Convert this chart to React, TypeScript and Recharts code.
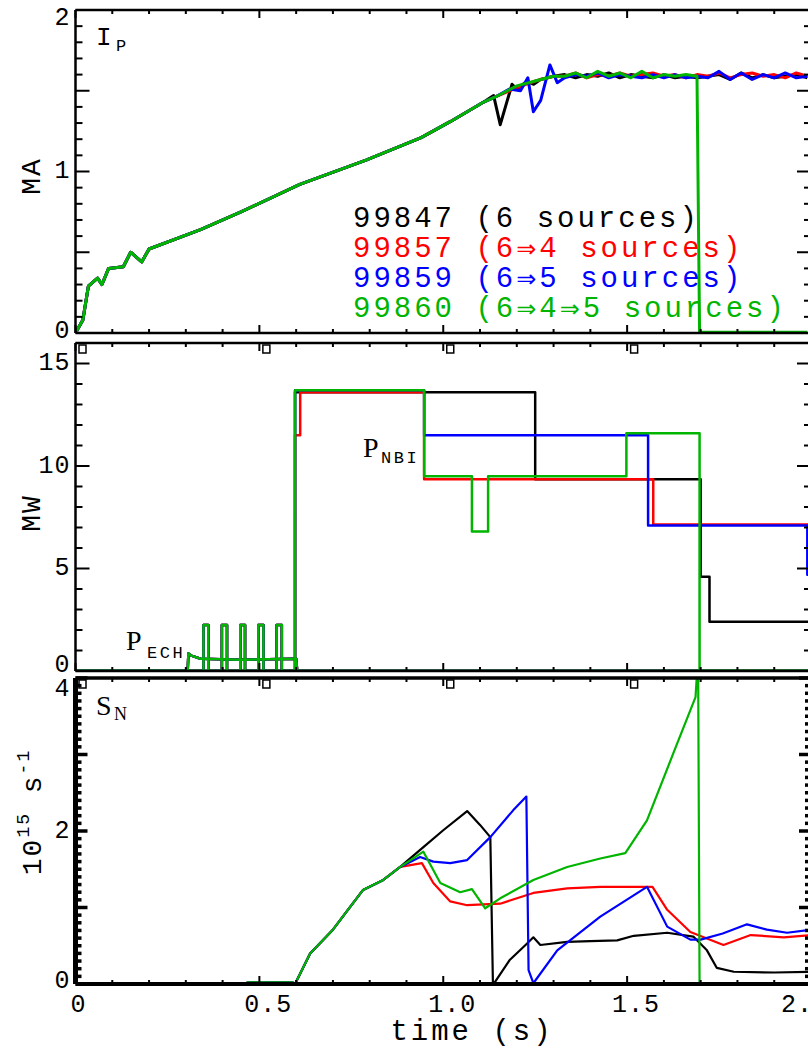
import React from 'react';
import { LineChart, Line, XAxis, YAxis } from 'recharts';

const MONO = '"Liberation Mono", "DejaVu Sans Mono", monospace';
const SERIF = '"Liberation Serif", "DejaVu Serif", serif';

const shotNames = ['99847 (6 sources)', '99857 (6⇒4 sources)', '99859 (6⇒5 sources)', '99860 (6⇒4⇒5 sources)'];
const shotColors = ['#000000', '#ff0000', '#0000ff', '#00b400'];

// time axis, s
const timeLabels = [0, 0.5, 1, 1.5, 2];

// plasma current I_P (MA): start-up ramp is common to all four shots
const ipRampT = [0, 0.02, 0.035, 0.06, 0.072, 0.09, 0.13, 0.15, 0.18, 0.2, 0.34, 0.45, 0.61, 0.79, 0.94, 1.02, 1.11];
const ipRampV = [0, 0.08, 0.29, 0.34, 0.3, 0.4, 0.41, 0.5, 0.44, 0.52, 0.64, 0.75, 0.92, 1.07, 1.21, 1.31, 1.43];
const ipFlatT = [1.33, 1.36, 1.39, 1.42, 1.45, 1.48, 1.51, 1.54, 1.57, 1.6, 1.63, 1.66, 1.69, 1.72, 1.75, 1.78, 1.81, 1.84, 1.87, 1.9, 1.93, 1.96, 1.99];

const ip99847EdgeT = [1.137, 1.155, 1.187, 1.2, 1.228, 1.246, 1.264, 1.3];
const ip99847EdgeV = [1.47, 1.29, 1.54, 1.51, 1.56, 1.54, 1.57, 1.59];
const ip99847FlatV = [1.6, 1.58, 1.6, 1.59, 1.61, 1.58, 1.6, 1.59, 1.58, 1.6, 1.58, 1.59, 1.58, 1.59, 1.6, 1.57, 1.61, 1.58, 1.6, 1.58, 1.59, 1.6, 1.58];

const ip99857EdgeT = [1.14, 1.2, 1.25, 1.3];
const ip99857EdgeV = [1.46, 1.52, 1.56, 1.59];
const ip99857FlatV = [1.59, 1.61, 1.58, 1.6, 1.59, 1.61, 1.59, 1.6, 1.61, 1.59, 1.6, 1.58, 1.6, 1.59, 1.61, 1.58, 1.6, 1.61, 1.59, 1.6, 1.58, 1.61, 1.59];

const ip99859EdgeT = [1.14, 1.18, 1.21, 1.23, 1.245, 1.265, 1.29, 1.31];
const ip99859EdgeV = [1.46, 1.51, 1.5, 1.58, 1.37, 1.44, 1.66, 1.55];
const ip99859FlatV = [1.58, 1.6, 1.59, 1.61, 1.58, 1.6, 1.59, 1.58, 1.6, 1.58, 1.6, 1.58, 1.59, 1.58, 1.62, 1.57, 1.61, 1.57, 1.6, 1.58, 1.61, 1.58, 1.59];

const ip99860EdgeT = [1.14, 1.2, 1.25, 1.3];
const ip99860EdgeV = [1.46, 1.53, 1.56, 1.59];
const ip99860FlatV = [1.59, 1.61, 1.58, 1.62, 1.59, 1.61, 1.58, 1.62, 1.58, 1.6, 1.59, 1.6, 1.59];
const ip99860DisruptT = [1.697, 1.99];
const ip99860DisruptV = [0.005, 0.005];

// heating power (MW): NBI steps per shot, ECH common to all shots
const nbi99847T = [0, 0.597, 1.25, 1.7, 1.724, 2];
const nbi99847V = [0, 13.6, 9.35, 4.6, 2.4, 2.4];
const nbi99857T = [0, 0.597, 0.611, 0.948, 1.571, 2];
const nbi99857V = [0, 11.5, 13.6, 9.35, 7.15, 7.15];
const nbi99859T = [0, 0.597, 0.948, 1.557, 1.99, 2];
const nbi99859V = [0, 13.7, 11.5, 7.1, 4.7, 4.7];
const nbi99860T = [0, 0.597, 0.948, 1.078, 1.122, 1.498, 1.697, 2];
const nbi99860V = [0, 13.7, 9.5, 6.8, 9.5, 11.6, 0, 0];

const echT = [0, 0.305, 0.307, 0.315, 0.34, 0.45, 0.6, 0.603, 2];
const echV = [0, 0, 0.85, 0.75, 0.6, 0.55, 0.6, 0, 0];
const echPulseT = [0, 0.348, 0.361, 0.398, 0.412, 0.448, 0.461, 0.497, 0.511, 0.547, 0.561, 2];
const echPulseV = [0, 2.24, 0, 2.24, 0, 2.24, 0, 2.24, 0, 2.24, 0, 0];

// neutron rate S_N (1e15 /s): rise after NBI turn-on is common to all shots
const snRiseT = [0, 0.45, 0.47, 0.59, 0.597, 0.638, 0.7, 0.782, 0.837, 0.883];
const snRiseV = [0, 0, 0.02, 0.02, 0, 0.4, 0.71, 1.23, 1.36, 1.53];

const sn99847T = [0.946, 1.0, 1.065, 1.1, 1.128, 1.135, 1.14, 1.18, 1.228, 1.245, 1.264, 1.337, 1.4, 1.473, 1.518, 1.609, 1.68, 1.717, 1.744, 1.79, 1.9, 2];
const sn99847V = [1.79, 2.01, 2.26, 2.08, 1.92, 0.03, 0.02, 0.31, 0.53, 0.61, 0.51, 0.55, 0.56, 0.57, 0.63, 0.67, 0.62, 0.44, 0.21, 0.16, 0.15, 0.16];

const sn99857T = [0.942, 0.973, 1.019, 1.065, 1.155, 1.245, 1.337, 1.427, 1.569, 1.609, 1.672, 1.762, 1.836, 1.926, 2];
const sn99857V = [1.58, 1.32, 1.08, 1.03, 1.05, 1.19, 1.25, 1.27, 1.27, 0.97, 0.68, 0.51, 0.64, 0.61, 0.64];

const sn99859T = [0.937, 0.973, 1.019, 1.065, 1.128, 1.19, 1.226, 1.232, 1.245, 1.31, 1.427, 1.554, 1.609, 1.672, 1.7, 1.76, 1.826, 1.88, 1.935, 2];
const sn99859V = [1.66, 1.6, 1.58, 1.62, 1.92, 2.27, 2.45, 0.18, 0.01, 0.44, 0.88, 1.27, 0.75, 0.58, 0.58, 0.66, 0.78, 0.71, 0.67, 0.71];

const sn99860T = [0.946, 0.992, 1.046, 1.078, 1.114, 1.155, 1.245, 1.337, 1.427, 1.495, 1.554, 1.626, 1.686, 1.693, 1.697, 2];
const sn99860V = [1.73, 1.32, 1.2, 1.24, 0.99, 1.12, 1.36, 1.53, 1.64, 1.71, 2.14, 3.02, 3.75, 4.3, -0.02, -0.02];

type Pt = { t: number; v: number };
const pts = (t: number[], v: number[]): Pt[] => t.map((x, i) => ({ t: x, v: v[i] }));
const steps = (lo: number, hi: number, step: number) =>
  Array.from({ length: Math.round((hi - lo) / step) + 1 }, (_, i) => +(lo + i * step).toFixed(3));
const onStep = (v: number, step: number) => Math.abs(v / step - Math.round(v / step)) < 1e-6;

const ipSeries = [
  pts([...ipRampT, ...ip99847EdgeT, ...ipFlatT], [...ipRampV, ...ip99847EdgeV, ...ip99847FlatV]),
  pts([...ipRampT, ...ip99857EdgeT, ...ipFlatT], [...ipRampV, ...ip99857EdgeV, ...ip99857FlatV]),
  pts([...ipRampT, ...ip99859EdgeT, ...ipFlatT], [...ipRampV, ...ip99859EdgeV, ...ip99859FlatV]),
  pts(
    [...ipRampT, ...ip99860EdgeT, ...ipFlatT.slice(0, ip99860FlatV.length), ...ip99860DisruptT],
    [...ipRampV, ...ip99860EdgeV, ...ip99860FlatV, ...ip99860DisruptV]
  ),
];
const nbiSeries = [
  pts(nbi99847T, nbi99847V),
  pts(nbi99857T, nbi99857V),
  pts(nbi99859T, nbi99859V),
  pts(nbi99860T, nbi99860V),
];
const echSeries = pts(echT, echV);
const echPulseSeries = pts(echPulseT, echPulseV);
const snSeries = [
  pts([...snRiseT, ...sn99847T], [...snRiseV, ...sn99847V]),
  pts([...snRiseT, ...sn99857T], [...snRiseV, ...sn99857V]),
  pts([...snRiseT, ...sn99859T], [...snRiseV, ...sn99859V]),
  pts([...snRiseT, ...sn99860T], [...snRiseV, ...sn99860V]),
];

type Trace = { data: Pt[]; color: string; width: number; step?: boolean };

type YCfg = {
  domain: [number, number];
  step: number;
  major: number;
  labels: number[];
  minorLen: number;
  majorLen: number;
  tickWidth: number;
  topShift: number;
  bottomShift: number;
};

type PanelProps = {
  top: number;
  height: number;
  plotTop: number;
  plotBottom: number;
  y: YCfg;
  traces: Trace[];
  squares: boolean;
  timeLabelsShown: boolean;
  frame: { left: number; right: number; top: number; bottom: number };
};

const tickText: React.CSSProperties = { fontFamily: MONO, fontSize: 25, letterSpacing: 1, fill: '#000' };
const timeTicks = steps(0, 2, 0.1);

function leftTick(cfg: YCfg) {
  return (p: any) => {
    const v = p.payload.value as number;
    const major = onStep(v, cfg.major);
    const shift = v === cfg.domain[1] ? cfg.topShift : v === cfg.domain[0] ? cfg.bottomShift : 0;
    return (
      <g>
        <line x1={p.x} x2={p.x + (major ? cfg.majorLen : cfg.minorLen)} y1={p.y} y2={p.y} stroke="#000" strokeWidth={cfg.tickWidth} />
        {cfg.labels.includes(v) && (
          <text x={p.x - 5} y={p.y + shift} textAnchor="end" dominantBaseline="central" style={tickText}>
            {v}
          </text>
        )}
      </g>
    );
  };
}

function rightTick(cfg: YCfg) {
  return (p: any) => {
    const v = p.payload.value as number;
    const major = onStep(v, cfg.major);
    return <line x1={p.x} x2={p.x - (major ? cfg.majorLen : cfg.minorLen)} y1={p.y} y2={p.y} stroke="#000" strokeWidth={cfg.tickWidth} />;
  };
}

function bottomTick(labelled: boolean) {
  return (p: any) => {
    const v = p.payload.value as number;
    const major = onStep(v, 0.5);
    const text = v === 0 ? '0' : v.toFixed(1);
    const dx = v === 0 ? 3 : v === 2 ? -6 : 9;
    return (
      <g>
        <line x1={p.x} x2={p.x} y1={p.y} y2={p.y - (major ? 8 : 4)} stroke="#000" strokeWidth={2} />
        {labelled && timeLabels.includes(v) && (
          <text x={p.x + dx} y={p.y + 21} textAnchor="middle" dominantBaseline="central" style={tickText}>
            {text}
          </text>
        )}
      </g>
    );
  };
}

function topTick(squares: boolean) {
  return (p: any) => {
    const v = p.payload.value as number;
    const major = onStep(v, 0.5);
    return (
      <g>
        <line x1={p.x} x2={p.x} y1={p.y} y2={p.y + (major ? 8 : 4)} stroke="#000" strokeWidth={2} />
        {squares && major && <rect x={p.x + 3.5} y={p.y + 2} width={7} height={8} fill="none" stroke="#000" strokeWidth={1.5} />}
      </g>
    );
  };
}

// one stacked panel; plot box spans x 75.5..811 of the page and plotTop..plotBottom
function Panel({ top, height, plotTop, plotBottom, y, traces, squares, timeLabelsShown, frame }: PanelProps) {
  const yTicks = steps(y.domain[0], y.domain[1], y.step);
  const common = { tickSize: 0, tickMargin: 0, interval: 0 as const, allowDataOverflow: true };
  return (
    <div style={{ position: 'absolute', left: 0, top }}>
      <LineChart
        width={813}
        height={height}
        margin={{ top: plotTop - top - 1, right: 1, bottom: top + height - plotBottom - 1, left: 74.5 }}
      >
        <XAxis
          {...common}
          xAxisId="b"
          dataKey="t"
          type="number"
          domain={[0, 2]}
          ticks={timeTicks}
          height={1}
          axisLine={{ stroke: '#000', strokeWidth: frame.bottom }}
          tick={bottomTick(timeLabelsShown)}
        />
        <XAxis
          {...common}
          xAxisId="t"
          orientation="top"
          dataKey="t"
          type="number"
          domain={[0, 2]}
          ticks={timeTicks}
          height={1}
          axisLine={{ stroke: '#000', strokeWidth: frame.top }}
          tick={topTick(squares)}
        />
        <YAxis
          {...common}
          yAxisId="l"
          type="number"
          domain={y.domain}
          ticks={yTicks}
          width={1}
          axisLine={{ stroke: '#000', strokeWidth: frame.left }}
          tick={leftTick(y)}
        />
        <YAxis
          {...common}
          yAxisId="r"
          orientation="right"
          type="number"
          domain={y.domain}
          ticks={yTicks}
          width={1}
          axisLine={{ stroke: '#000', strokeWidth: frame.right }}
          tick={rightTick(y)}
        />
        {traces.map((tr, i) => (
          <Line
            key={i}
            data={tr.data}
            dataKey="v"
            xAxisId="b"
            yAxisId="l"
            type={tr.step ? 'stepAfter' : 'linear'}
            stroke={tr.color}
            strokeWidth={tr.width}
            strokeLinejoin="round"
            dot={false}
            activeDot={false}
            isAnimationActive={false}
          />
        ))}
      </LineChart>
    </div>
  );
}

const ipY: YCfg = { domain: [0, 2], step: 0.1, major: 0.5, labels: [0, 1, 2], minorLen: 7, majorLen: 14, tickWidth: 2, topShift: 8, bottomShift: -2 };
const powerY: YCfg = { domain: [0, 16], step: 1, major: 5, labels: [0, 5, 10, 15], minorLen: 7, majorLen: 14, tickWidth: 2, topShift: 0, bottomShift: -6 };
const snY: YCfg = { domain: [0, 4], step: 0.1, major: 1, labels: [0, 2, 4], minorLen: 6, majorLen: 12, tickWidth: 3.5, topShift: 11, bottomShift: -3 };

const ipTraces: Trace[] = ipSeries.map((d, i) => ({ data: d, color: shotColors[i], width: 3 }));
const powerTraces: Trace[] = shotColors.flatMap((c, i) => [
  { data: echSeries, color: c, width: 2.5 },
  { data: echPulseSeries, color: c, width: 2.5, step: true },
  { data: nbiSeries[i], color: c, width: 2.5, step: true },
]);
const snTraces: Trace[] = snSeries.map((d, i) => ({ data: d, color: shotColors[i], width: 2.2 }));

const axisTitle: React.CSSProperties = { fontFamily: MONO, fontSize: 28, letterSpacing: 2, fill: '#000' };

// draw the ⇒ arrows a little wider than the mono face does
function legendText(name: string) {
  return name.split('⇒').flatMap((part, i) =>
    i === 0
      ? [part]
      : [
          <tspan key={i} style={{ fontFamily: '"DejaVu Sans", sans-serif', fontSize: 24 }}>⇒</tspan>,
          part,
        ]
  );
}

export default function App() {
  return (
    <div style={{ position: 'absolute', left: 0, top: 0, width: 808, height: 1048, overflow: 'hidden', background: '#fff' }}>
      <Panel top={0} height={340} plotTop={10} plotBottom={333} y={ipY} traces={ipTraces} squares={false} timeLabelsShown={false}
        frame={{ left: 2.5, right: 2.5, top: 2.5, bottom: 2.5 }} />
      <Panel top={336} height={340} plotTop={343} plotBottom={671} y={powerY} traces={powerTraces} squares timeLabelsShown={false}
        frame={{ left: 2.5, right: 2.5, top: 2.5, bottom: 2.5 }} />
      <Panel top={672} height={376} plotTop={678} plotBottom={984} y={snY} traces={snTraces} squares timeLabelsShown
        frame={{ left: 5, right: 4, top: 3.5, bottom: 4 }} />

      <svg width={808} height={1048} style={{ position: 'absolute', left: 0, top: 0, pointerEvents: 'none' }}>
        {/* shot legend */}
        {shotNames.map((name, i) => (
          <text key={name} x={353} y={227 + i * 30} fill={shotColors[i]} style={{ fontFamily: MONO, fontSize: 29, letterSpacing: 3 }}>
            {legendText(name)}
          </text>
        ))}

        {/* panel labels */}
        <text x={96} y={45} style={{ fontFamily: MONO, fontSize: 26 }}>
          I<tspan x={116} y={51} style={{ fontSize: 17 }}>P</tspan>
        </text>
        <text x={363} y={457} style={{ fontFamily: SERIF, fontSize: 28 }}>
          P<tspan x={381} y={463} style={{ fontFamily: MONO, fontSize: 17, letterSpacing: 2.5 }}>NBI</tspan>
        </text>
        <text x={126} y={650} style={{ fontFamily: SERIF, fontSize: 28 }}>
          P<tspan x={147} y={658} style={{ fontFamily: MONO, fontSize: 17, letterSpacing: 2.5 }}>ECH</tspan>
        </text>
        <text x={96} y={715} style={{ fontFamily: SERIF, fontSize: 28 }}>
          S<tspan x={114} y={720} style={{ fontSize: 18 }}>N</tspan>
        </text>

        {/* axis titles */}
        <text transform="translate(32,176) rotate(-90)" textAnchor="middle" dominantBaseline="central" style={axisTitle}>MA</text>
        <text transform="translate(32,513) rotate(-90)" textAnchor="middle" dominantBaseline="central" style={axisTitle}>MW</text>
        <text transform="translate(33,812) rotate(-90)" textAnchor="middle" dominantBaseline="central" style={axisTitle}>
          10<tspan dy={-9} style={{ fontSize: 18 }}>15</tspan>
          <tspan dy={9}> s</tspan>
          <tspan dy={-9} style={{ fontSize: 18 }}>-1</tspan>
        </text>
        <text x={472} y={1040} textAnchor="middle" style={{ fontFamily: MONO, fontSize: 29, letterSpacing: 3 }}>
          time (s)
        </text>
      </svg>
    </div>
  );
}
